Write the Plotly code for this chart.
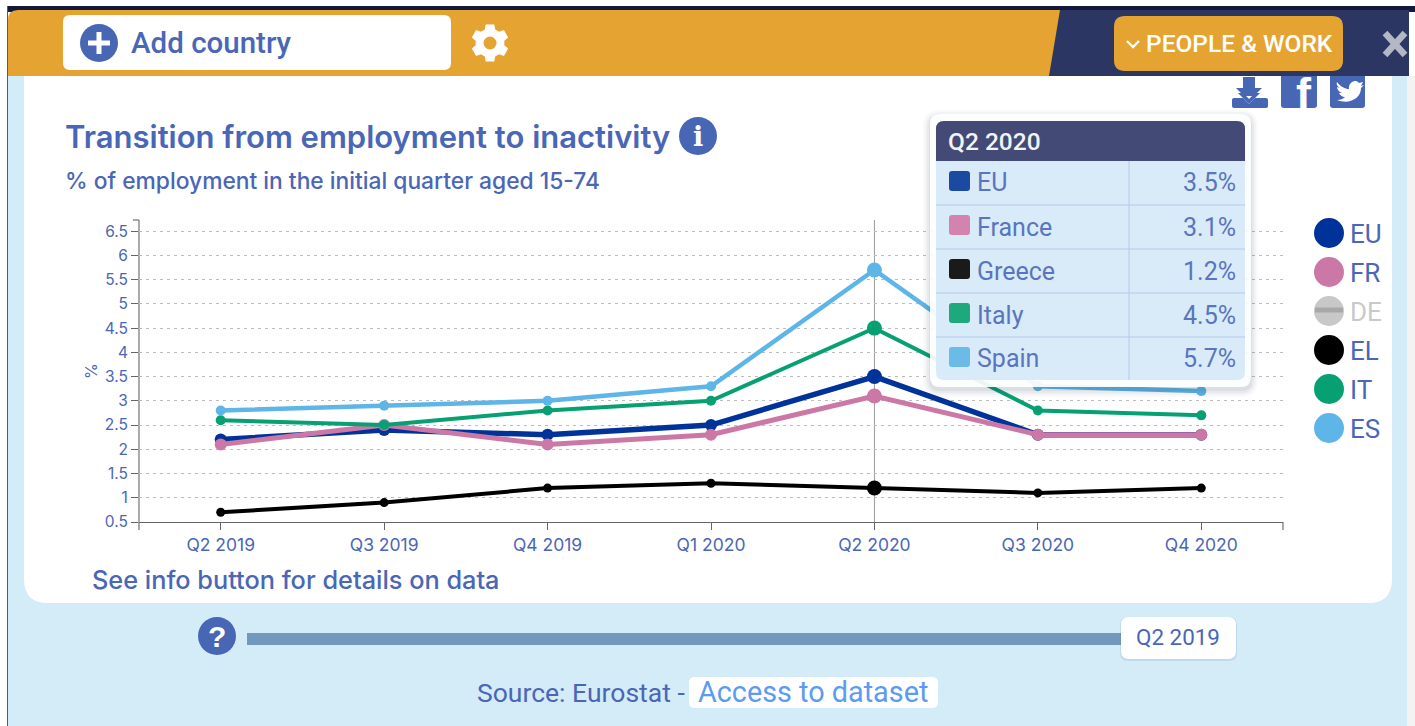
import math
import re
import plotly.graph_objects as go

W, H = 1415, 726

QUARTERS = ["Q2 2019", "Q3 2019", "Q4 2019", "Q1 2020", "Q2 2020", "Q3 2020", "Q4 2020"]
ACTIVE_QUARTER = "Q2 2020"

CODES = ["EU", "FR", "EL", "IT", "ES"]
NAMES = ["EU", "France", "Greece", "Italy", "Spain"]
EU = [2.2, 2.4, 2.3, 2.5, 3.5, 2.3, 2.3]
FR = [2.1, 2.5, 2.1, 2.3, 3.1, 2.3, 2.3]
EL = [0.7, 0.9, 1.2, 1.3, 1.2, 1.1, 1.2]
IT = [2.6, 2.5, 2.8, 3.0, 4.5, 2.8, 2.7]
ES = [2.8, 2.9, 3.0, 3.3, 5.7, 3.3, 3.2]
SERIES = [EU, FR, EL, IT, ES]

COLORS = ["#00339A", "#CC78A6", "#000000", "#06A073", "#5DB5E8"]
SWATCHES = ["#1C4AA3", "#D283AE", "#1A1A1A", "#1DA97C", "#6BBBE8"]
WIDTHS = [5.5, 5, 4, 4, 4.5]
DOTS = [12, 12, 9, 10, 10]

LEGEND_CODES = ["EU", "FR", "DE", "EL", "IT", "ES"]
LEGEND_COLORS = ["#00339A", "#CC78A6", "#C8C8C8", "#000000", "#06A073", "#5DB5E8"]

Y_TICKS = [0.5, 1, 1.5, 2, 2.5, 3, 3.5, 4, 4.5, 5, 5.5, 6, 6.5]

INK = "#4A66B6"
ORANGE = "#E5A431"
NAVY = "#2B3662"
SKY = "#D4EBF8"

shapes, notes = [], []


def to_paper(path):
    """Convert an absolute pixel path into paper coordinates."""
    index = [0]

    def swap(match):
        value = float(match.group())
        is_x = index[0] % 2 == 0
        index[0] += 1
        return f"{value / W:.5f}" if is_x else f"{1 - value / H:.5f}"

    return re.sub(r"-?\d+\.?\d*", swap, path)


def draw(path, fill, layer="below", line=None, width=0):
    shapes.append(dict(
        type="path", xref="paper", yref="paper", path=to_paper(path),
        fillcolor=fill, layer=layer,
        line=dict(color=line or "rgba(0,0,0,0)", width=width),
    ))


def stroke(x0, y0, x1, y1, color, width=1, layer="below"):
    draw(f"M{x0} {y0} L{x1} {y1}", "rgba(0,0,0,0)", layer, color, width)


def rounded(x0, y0, x1, y1, tl, tr=None, br=None, bl=None):
    tr = tl if tr is None else tr
    br = tl if br is None else br
    bl = tl if bl is None else bl
    return (f"M{x0 + tl} {y0} L{x1 - tr} {y0} Q{x1} {y0} {x1} {y0 + tr} "
            f"L{x1} {y1 - br} Q{x1} {y1} {x1 - br} {y1} "
            f"L{x0 + bl} {y1} Q{x0} {y1} {x0} {y1 - bl} "
            f"L{x0} {y0 + tl} Q{x0} {y0} {x0 + tl} {y0} Z")


def disc(cx, cy, r, fill, layer="below"):
    shapes.append(dict(
        type="circle", xref="paper", yref="paper", layer=layer, fillcolor=fill,
        x0=(cx - r) / W, x1=(cx + r) / W, y0=1 - (cy + r) / H, y1=1 - (cy - r) / H,
        line=dict(width=0),
    ))


def label(x, y, text, size, color=INK, anchor="left", weight=400, family="Roboto", angle=0):
    notes.append(dict(
        xref="paper", yref="paper", x=x / W, y=1 - y / H, text=text, showarrow=False,
        xanchor=anchor, yanchor="middle", textangle=angle, borderpad=0, borderwidth=0,
        font=dict(size=size, color=color, family=family, weight=weight),
    ))


# Page frame
draw(f"M8 6 L{W} 6 L{W} 12 L8 12 Z", "#14183A")
draw(f"M7 6 L8 6 L8 {H} L7 {H} Z", "#555A66")
draw(f"M8 40 L1407 40 L1407 {H} L8 {H} Z", SKY)
draw(f"M1407 76 L{W} 76 L{W} {H} L1407 {H} Z", "#F3F3F3")
draw(rounded(24, 70, 1392, 603, 0, 0, 24, 24), "#FFFFFF")

# Header band
draw(f"M1040 10 L1409 10 L1409 76 L1040 76 Z", NAVY)
draw("M18 10 L1060 10 L1049 76 L8 76 L8 20 Q8 10 18 10 Z", ORANGE)
draw(rounded(63, 15, 451, 70, 7), "#FFFFFF")
disc(99, 43, 19, "#4766B4")
draw("M96.5 32 L101.5 32 L101.5 40.5 L110 40.5 L110 45.5 L101.5 45.5 L101.5 54 L96.5 54 "
     "L96.5 45.5 L88 45.5 L88 40.5 L96.5 40.5 Z", "#FFFFFF")
label(131, 43, "Add country", 29.5, weight=500)

# Settings cog
cog = []
for tooth in range(6):
    mid = math.radians(60 * tooth - 90)
    for offset, radius in [(-21, 14.5), (-13, 19), (13, 19), (21, 14.5)]:
        a = mid + math.radians(offset)
        cog.append((490 + radius * math.cos(a), 43 + radius * math.sin(a)))
draw("M" + " L".join(f"{x:.2f} {y:.2f}" for x, y in cog) + " Z", "#FFFFFF")
disc(490, 43, 6.5, ORANGE)

draw(rounded(1114, 16, 1343, 71, 11), ORANGE)
draw("M1127 41 L1133 47 L1139 41", "rgba(0,0,0,0)", "below", "#FFFFFF", 2.4)
label(1146, 44, "PEOPLE &amp; WORK", 24.5, "#FFFFFF", weight=500)
stroke(1385, 33, 1405, 55, "#B4B7C6", 6.5)
stroke(1405, 33, 1385, 55, "#B4B7C6", 6.5)

# Share icons
draw("M1243 77 L1255 77 L1255 88 L1262 88 L1249 101 L1236 88 L1243 88 Z", "#4766B4")
draw(rounded(1232, 98, 1268, 108, 2), "#4766B4")
draw("M1241 96 L1249 104 L1257 96 Z", "#FFFFFF")
draw("M1238 93 L1249 104 L1260 93 L1255 93 L1249 99 L1243 93 Z", "#4766B4")
draw(rounded(1281, 76, 1317, 108, 0, 0, 3, 3), "#4766B4")
label(1304, 94, "f", 45, "#FFFFFF", "center", 700, "Liberation Sans")
draw(rounded(1330, 76, 1365, 108, 0, 0, 3, 3), "#4766B4")
draw("M1337 82 C1341 87 1345 89 1349 89 C1348 83 1355 78 1359 83 L1363 82 L1361 86 L1364 85 "
     "L1361 88 C1361 98 1350 105 1337 100 C1341 100 1343 99 1345 97 C1342 97 1340 95 1339 93 "
     "L1342 93 C1339 92 1337 89 1337 87 L1340 88 C1337 86 1336 84 1337 82 Z", "#FFFFFF")

# Chart headings
label(65, 137, "Transition from employment to inactivity", 31, weight=600, family="Inter")
disc(698, 136, 19, "#4766B4")
label(698, 136, "i", 27, "#FFFFFF", "center", 700, "DejaVu Serif")
label(65, 180, "% of employment in the initial quarter aged 15-74", 22.8, weight=500, family="Inter")
label(91, 371, "%", 16, anchor="center", angle=-90, family="Inter")

# Axis end caps
stroke(139, 220, 139, 530, "#555555")
stroke(133, 220, 139, 220, "#555555")
stroke(1283, 522, 1283, 530, "#555555")

# Legend chips
for i, (code, color) in enumerate(zip(LEGEND_CODES, LEGEND_COLORS)):
    cy = 233 + 39 * i
    disc(1329, cy, 15, color)
    if code == "DE":
        draw(rounded(1315, cy - 3.5, 1343, cy + 1.5, 0), "#A8A8A8")
    label(1350, cy + 1, code, 26, "#C9C9C9" if code == "DE" else INK)

# Footer
label(92, 579, "See info button for details on data", 25.3, weight=500, family="Inter")
disc(217, 636, 19, "#4766B4")
label(217, 636, "?", 30, "#FFFFFF", "center", 700, "Liberation Sans")
draw("M247 633 L1125 633 L1125 645 L247 645 Z", "#7398BE")
draw(rounded(1120, 617, 1237, 661, 8), "rgba(70,90,130,0.12)")
draw(rounded(1121, 617, 1236, 659, 8), "#FFFFFF")
label(1178, 637, "Q2 2019", 22.4, anchor="center")
label(477, 692, "Source: Eurostat -", 26.5)
draw(rounded(689, 677, 938, 708, 6), "#FFFFFF")
label(813, 692, "Access to dataset", 28.8, "#5B9BF2", "center")

# Readout panel for the selected quarter
active = QUARTERS.index(ACTIVE_QUARTER)
for grow, alpha in [(7, 0.025), (5, 0.035), (3, 0.05), (1, 0.06)]:
    draw(rounded(930 - grow, 114 - grow + 3, 1251 + grow, 387 + grow + 3, 10 + grow),
         f"rgba(40,50,80,{alpha})", "above")
draw(rounded(930, 114, 1251, 387, 10), "rgba(255,255,255,0.92)", "above")
draw(rounded(936, 121, 1245, 380, 8), "rgba(214,233,248,0.93)", "above")
draw(rounded(936, 121, 1245, 161, 8, 8, 0, 0), "#424A75", "above")
label(948, 142, ACTIVE_QUARTER, 24.5, "#F2F3F7", weight=500)
stroke(1129, 161, 1129, 380, "#B3CBEA", 1, "above")
for i, (name, swatch, values) in enumerate(zip(NAMES, SWATCHES, SERIES)):
    top = 161 + 44 * i
    if i:
        stroke(936, top, 1245, top, "#B3CBEA", 1, "above")
    draw(rounded(949, top + 10, 970, top + 30, 3), swatch, "above")
    label(977, top + 22, name, 25, "#5A75BF")
    label(1236, top + 22, f"{values[active]:.1f}%", 25, "#5A75BF", "right")

fig = go.Figure()
for code, values, color, width, dot in zip(CODES, SERIES, COLORS, WIDTHS, DOTS):
    fig.add_trace(go.Scatter(
        x=QUARTERS, y=values, name=code, mode="lines+markers",
        line=dict(color=color, width=width),
        marker=dict(color=color, opacity=1, line=dict(width=0),
                    size=[15 if q == ACTIVE_QUARTER else dot for q in QUARTERS]),
        cliponaxis=False, showlegend=False,
    ))

# Crosshair on the selected quarter
shapes.append(dict(type="line", xref="x", yref="paper", x0=ACTIVE_QUARTER, x1=ACTIVE_QUARTER,
                   y0=1 - 522 / H, y1=1 - 220 / H, layer="below",
                   line=dict(color="#9A9A9A", width=1)))

fig.update_layout(
    width=W, height=H, autosize=False,
    margin=dict(l=0, r=0, t=0, b=0, autoexpand=False),
    paper_bgcolor="#FFFFFF", plot_bgcolor="rgba(0,0,0,0)",
    shapes=shapes, annotations=notes, showlegend=False,
    xaxis=dict(
        domain=[139 / W, 1283 / W], type="category", categoryorder="array", categoryarray=QUARTERS,
        range=[-0.5, len(QUARTERS) - 0.5], showgrid=False, zeroline=False, automargin=False,
        showline=True, linecolor="#666666", linewidth=1,
        ticks="outside", ticklen=7, tickcolor="#666666",
        tickfont=dict(family="Inter", size=17.5, color=INK), fixedrange=True,
    ),
    yaxis=dict(
        domain=[1 - 522 / H, 1 - 220 / H], range=[0.5, 6.73], tickmode="array",
        tickvals=Y_TICKS, ticktext=[f"{v:g}" for v in Y_TICKS], automargin=False,
        showgrid=True, gridcolor="#BDBDBD", griddash="3px,4px", gridwidth=1, zeroline=False,
        showline=False, ticks="outside", ticklen=7, tickcolor="#666666",
        tickfont=dict(family="Inter", size=15.5, color=INK), fixedrange=True,
    ),
)

fig.write_html("out.html")
